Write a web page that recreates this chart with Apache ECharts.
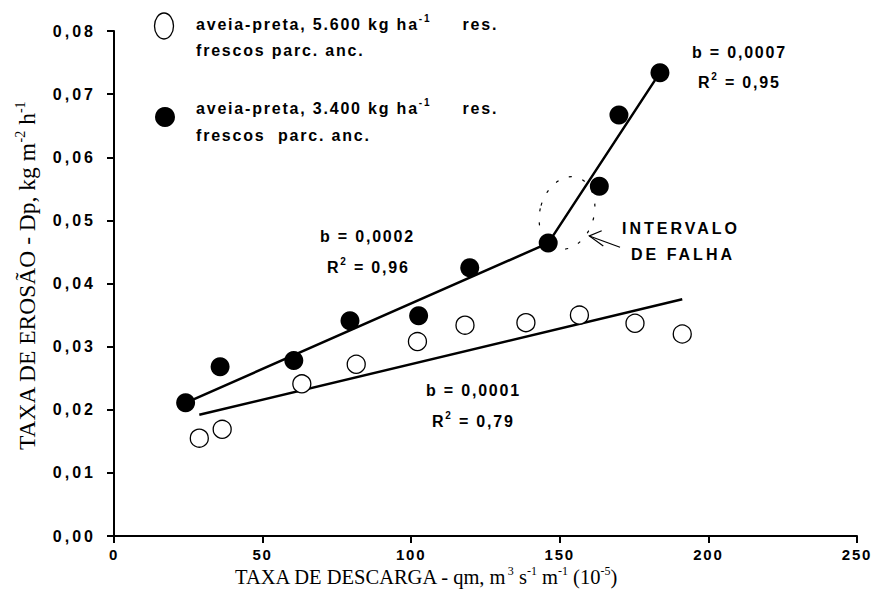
<!DOCTYPE html>
<html><head><meta charset="utf-8">
<script src="https://cdn.jsdelivr.net/npm/echarts@6/dist/echarts.min.js"></script>
<style>
html,body{margin:0;padding:0;background:#fff}
#c{width:873px;height:611px}
#c svg text[style*="bold"]{letter-spacing:1.8px}
#c svg text[style*="700"]{letter-spacing:3px}
</style></head><body><div id="c"></div>
<script>
// ---- data ----
const xTickLabels = ['0', '50', '100', '150', '200', '250'];
const yTickLabels = ['0,00','0,01','0,02','0,03','0,04','0,05','0,06','0,07','0,08'];
// aveia-preta, 3.400 kg/ha (filled circles)
const blackX = [24.1, 35.7, 60.5, 79.4, 102.5, 119.7, 146.1, 163.3, 169.9, 183.7];
const blackY = [0.0211, 0.0268, 0.0278, 0.0341, 0.0349, 0.0425, 0.0464, 0.0554, 0.0667, 0.0734];
// aveia-preta, 5.600 kg/ha (open circles)
const openX = [28.7, 36.4, 63.2, 81.5, 102.1, 118.1, 138.6, 156.6, 175.3, 191.2];
const openY = [0.0155, 0.0169, 0.0241, 0.0272, 0.0308, 0.0334, 0.0338, 0.0350, 0.0337, 0.0320];
// fitted lines
const fitBlackX = [24.1, 146.1, 183.7];
const fitBlackY = [0.0211, 0.0464, 0.0734];
const fitOpenX = [28.7, 191.2];
const fitOpenY = [0.0192, 0.0375];

// ---- text measurement aware of letter spacing ----
const mctx = document.createElement('canvas').getContext('2d');
function spacingFor(font){ font = font || ''; if (/\b700\b/.test(font)) return 3; if (/bold/.test(font)) return 1.8; return 0; }
echarts.setPlatformAPI({
  measureText(text, font){
    mctx.font = font || '12px sans-serif';
    const w = mctx.measureText(text).width;
    return { width: w + spacingFor(font) * Array.from(text || '').length };
  }
});

const pairs = (xs, ys) => xs.map((x, i) => [x, ys[i]]);
const SANS = 'Liberation Sans', SERIF = 'Liberation Serif';
const supB = {fontFamily: SANS, fontWeight: 'bold', fontSize: 10, verticalAlign: 'top', fill: '#000', color:'#000'};
const mainB = {fontFamily: SANS, fontWeight: 'bold', fontSize: 16, lineHeight: 22, fill: '#000', color:'#000'};

function serifRich(size){
  return {
    a: {fontFamily: SERIF, fontSize: size, lineHeight: size + 4, fill: '#000', color: '#000'},
    s: {fontFamily: SERIF, fontSize: Math.round(size * 0.6), verticalAlign: 'top', fill: '#000', color: '#000'}
  };
}

function label(x, y, text, weight){
  const m = Object.assign({}, mainB, weight ? {fontWeight: weight} : {});
  return {type: 'text', x: x, y: y, silent: true,
    style: {text: text, rich: {a: m, s: supB}, align: 'left', verticalAlign: 'middle',
      fontFamily: SANS, fontWeight: weight || 'bold', fontSize: 16, fill: '#000'}};
}

const chart = echarts.init(document.getElementById('c'), null, {renderer: 'svg', width: 873, height: 611});

const graphics = [
  // legend
  {type: 'ellipse', silent: true, shape: {cx: 164, cy: 26, rx: 9.5, ry: 13}, style: {fill: '#fff', stroke: '#000', lineWidth: 1.3}},
  {type: 'circle', silent: true, shape: {cx: 165, cy: 117, r: 10}, style: {fill: '#000'}},
  label(196, 24, '{a|aveia-preta, 5.600 kg ha}{s|-1}{a|     res.}'),
  label(196, 50, '{a|frescos parc. anc.}'),
  label(196, 108, '{a|aveia-preta, 3.400 kg ha}{s|-1}{a|     res.}'),
  label(196, 135, '{a|frescos  parc. anc.}'),
  // regression annotations
  label(692, 52, '{a|b = 0,0007}'),
  label(698, 82, '{a|R}{s|2}{a| = 0,95}'),
  label(320, 236, '{a|b = 0,0002}'),
  label(327, 267, '{a|R}{s|2}{a| = 0,96}'),
  label(426, 390, '{a|b = 0,0001}'),
  label(432, 421, '{a|R}{s|2}{a| = 0,79}'),
  label(622, 228, '{a|INTERVALO}', 700),
  label(631, 254, '{a|DE FALHA}', 700),
  // gap interval ellipse + arrow
  {type: 'ellipse', silent: true, x: 567, y: 213, rotation: -0.28,
    shape: {cx: 0, cy: 0, rx: 27, ry: 37},
    style: {fill: 'none', stroke: '#000', lineWidth: 1.2, lineDash: [3, 11]}},
  {type: 'polyline', silent: true, shape: {points: [[620, 247.3], [589.3, 236]]}, style: {stroke: '#000', lineWidth: 1.2, fill: 'none'}},
  {type: 'polyline', silent: true, shape: {points: [[601.7, 230.7], [589.3, 236], [603.3, 246]]}, style: {stroke: '#000', lineWidth: 1.2, fill: 'none'}},
  // x axis title
  {type: 'text', x: 235, y: 577, silent: true,
    style: {text: '{a|TAXA DE DESCARGA - qm, m}{s|3}{a| s}{s|-1}{a| m}{s|-1}{a| (10}{s|-5}{a|)}',
      rich: serifRich(20.5), align: 'left', verticalAlign: 'middle', fontFamily: SERIF, fontSize: 20.5, fill: '#000'}},
  // y axis title
  {type: 'text', x: 27, y: 276, rotation: Math.PI / 2, silent: true,
    style: {text: '{a|TAXA DE EROSÃO - Dp, kg m}{s|-2}{a| h}{s|-1}',
      rich: serifRich(23.5), align: 'center', verticalAlign: 'middle', fontFamily: SERIF, fontSize: 23.5, fill: '#000'}}
];

const option = {
  animation: false,
  backgroundColor: '#fff',
  grid: {left: 114, right: 16, top: 31, bottom: 75, outerBoundsMode: 'none'},
  xAxis: {
    type: 'value', min: 0, max: 250, interval: 50,
    axisLine: {show: true, onZero: false, lineStyle: {color: '#000', width: 2}},
    axisTick: {show: true, length: 7, lineStyle: {color: '#000', width: 2}},
    splitLine: {show: false},
    axisLabel: {margin: 10, color: '#000', fontFamily: SANS, fontWeight: 'bold', fontSize: 15,
      formatter: (v) => xTickLabels[Math.round(v / 50)]}
  },
  yAxis: {
    type: 'value', min: 0, max: 0.08, interval: 0.01,
    axisLine: {show: true, onZero: false, lineStyle: {color: '#000', width: 2}},
    axisTick: {show: true, length: 7, lineStyle: {color: '#000', width: 2}},
    splitLine: {show: false},
    axisLabel: {margin: 18, color: '#000', fontFamily: SANS, fontWeight: 700, fontSize: 16,
      formatter: (v) => yTickLabels[Math.round(v / 0.01)]}
  },
  graphic: graphics,
  series: [
    {type: 'line', name: 'ajuste 3.400', data: pairs(fitBlackX, fitBlackY), symbol: 'none', silent: true, z: 2,
      lineStyle: {color: '#000', width: 2.5}},
    {type: 'line', name: 'ajuste 5.600', data: pairs(fitOpenX, fitOpenY), symbol: 'none', silent: true, z: 2,
      lineStyle: {color: '#000', width: 2.5}},
    {type: 'scatter', name: 'aveia-preta, 5.600 kg ha-1', data: pairs(openX, openY), symbol: 'circle', symbolSize: 18, z: 3,
      itemStyle: {color: '#fff', borderColor: '#000', borderWidth: 1.3, opacity: 1}},
    {type: 'scatter', name: 'aveia-preta, 3.400 kg ha-1', data: pairs(blackX, blackY), symbol: 'circle', symbolSize: 19, z: 3,
      itemStyle: {color: '#000', opacity: 1}}
  ]
};
chart.setOption(option);
</script></body></html>
